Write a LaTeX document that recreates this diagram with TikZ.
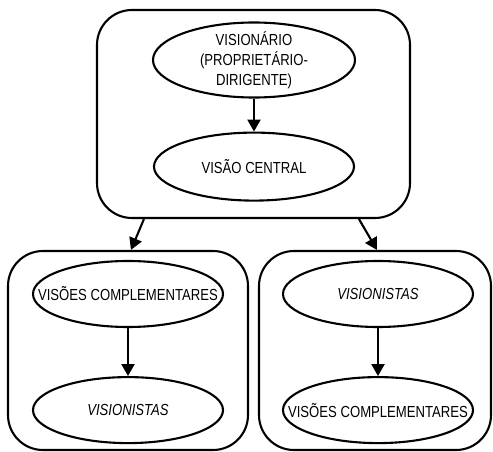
\documentclass[tikz,border=0pt]{standalone}
\usepackage{fontspec}
\setmainfont{Liberation Sans}[FakeStretch=0.82]
\usetikzlibrary{positioning,shapes.geometric,arrows.meta}

\begin{document}
\begin{tikzpicture}[
x=1pt, y=-1pt,
line width=2.1pt,
roundbox/.style={rectangle, draw=black, line width=2.1pt, rounded corners=35pt},
ovalnode/.style={ellipse, draw=black, line width=2.1pt, inner xsep=-45pt, inner ysep=-25pt, font=\fontsize{16}{20}\selectfont, align=center},
>={Triangle[length=12pt,width=13pt]},
]
\useasboundingbox (0,0) rectangle (493,452);

%Boxes
\node[roundbox, minimum width=313pt, minimum height=208pt] (topbox)   at (253.5,114)   {};
\node[roundbox, minimum width=240pt, minimum height=199pt] (leftbox)  at (128,350.5)   {};
\node[roundbox, minimum width=232pt, minimum height=199pt] (rightbox) at (375,350.5)   {};

%Nodes
\node[ovalnode, minimum width=202pt, minimum height=75pt] (visionary)   at (254,60)  {VISIONÁRIO\\(PROPRIETÁRIO-\\DIRIGENTE)};
\node[ovalnode, minimum width=200pt, minimum height=68pt] (central)     [below=33pt of visionary] {VISÃO CENTRAL};
\node[ovalnode, minimum width=190pt, minimum height=66pt] (leftcompl)   at (128,294) {VISÕES COMPLEMENTARES};
\node[ovalnode, minimum width=190pt, minimum height=66pt] (leftvis)     [below=48pt of leftcompl] {\itshape VISIONISTAS};
\node[ovalnode, minimum width=190pt, minimum height=66pt] (rightvis)    at (378,294) {\itshape VISIONISTAS};
\node[ovalnode, minimum width=190pt, minimum height=66pt] (rightcompl)  [below=48pt of rightvis] {VISÕES COMPLEMENTARES};

%Lines
\draw[->] (visionary.south) -- (central.north);
\draw[->] (leftcompl.south) -- (leftvis.north);
\draw[->] (rightvis.south) -- (rightcompl.north);
\draw[->] ([xshift=48pt]topbox.south west) -- ([xshift=124pt]leftbox.north west);
\draw[->] ([xshift=263pt]topbox.south west) -- ([xshift=119pt]rightbox.north west);
\end{tikzpicture}
\end{document}
